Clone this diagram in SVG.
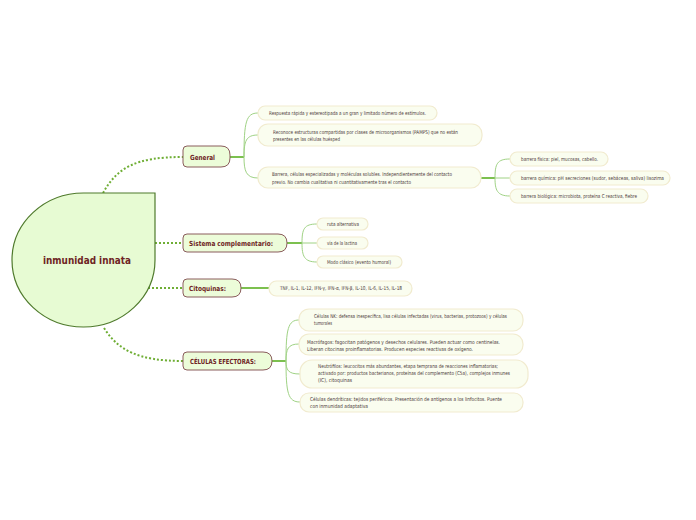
<svg xmlns="http://www.w3.org/2000/svg" width="696" height="520" viewBox="0 0 696 520">
<style>
.main{fill:#ecfcd9;stroke:#8a5c5c;stroke-width:1}
.mt{font-family:"Liberation Sans Narrow","DejaVu Sans Condensed","Liberation Sans",sans-serif;font-weight:bold;fill:#6e2424;font-size:7px}
.leaf{fill:#fafdef;stroke:#f1ebcf;stroke-width:1.2}
.lt{font-family:"Liberation Sans Narrow","DejaVu Sans Condensed","Liberation Sans",sans-serif;fill:#4a3838;font-size:5.3px}
.dot{fill:none;stroke:#6fae35;stroke-width:2;stroke-dasharray:2 2}
.stem{fill:none;stroke:#7cc04f;stroke-width:2}
.br{fill:none;stroke:#9fd284;stroke-width:1}
</style>
<rect width="696" height="520" fill="#ffffff"/>
<g id="connectors">
<path class="dot" d="M103 193 C117 168,135 157,183 157"/>
<path class="dot" d="M155 243 L183 243"/>
<path class="dot" d="M148 288 L183 288"/>
<path class="dot" d="M104 328 C118 350,138 361,183 361"/>
<path class="stem" d="M230 157 L244 157"/>
<path class="br" d="M244 157 C244 122,246 113,258 113"/>
<path class="br" d="M244 157 C244 141,246 135,258 135"/>
<path class="br" d="M244 157 C244 171,246 178,258 178"/>
<path class="stem" d="M481 178 L495 178"/>
<path class="br" d="M495 178 C495 164,497 159,510 159"/>
<path class="br" d="M495 178 L510 178"/>
<path class="br" d="M495 178 C495 190,497 196,510 196"/>
<path class="stem" d="M287 243 L302 243"/>
<path class="br" d="M302 243 C302 229,304 224,317 224"/>
<path class="br" d="M302 243 L317 243"/>
<path class="br" d="M302 243 C302 256,304 262,317 262"/>
<path class="stem" d="M241 288 L269 288"/>
<path class="stem" d="M272 361 L286 361"/>
<path class="br" d="M286 361 C286 329,288 320,299 320"/>
<path class="br" d="M286 361 C286 349,288 344,299 344"/>
<path class="br" d="M286 361 C286 370,288 374,300 374"/>
<path class="br" d="M286 361 C286 393,288 402,300 402"/>
</g>
<g id="central">
<path d="M83.5 193 L155 193 L155 260 A71.5 67 0 0 1 83.5 327 A71.5 67 0 0 1 12 260 A71.5 67 0 0 1 83.5 193 Z" fill="#e7fbd3" stroke="#4f7a2c" stroke-width="1.2"/>
<text x="87" y="263.5" text-anchor="middle" class="mt" style="font-size:10px" textLength="88" lengthAdjust="spacingAndGlyphs">inmunidad innata</text>
</g>
<g id="general">
<path class="main" d="M187 146 H221 Q230 146 230 155 V158 Q230 167 221 167 H187 Q183 167 183 163 V150 Q183 146 187 146 Z"/>
<text x="190" y="159.5" class="mt" textLength="25" lengthAdjust="spacingAndGlyphs">General</text>
</g>
<g id="g1">
<rect class="leaf" x="258" y="106" width="179" height="14" rx="7"/>
<text x="269" y="115" class="lt" textLength="157" lengthAdjust="spacingAndGlyphs">Respuesta rápida y estereotipada a un gran y limitado número de estímulos.</text>
</g>
<g id="g2">
<rect class="leaf" x="258" y="124" width="224" height="22" rx="10"/>
<text x="273" y="133.5" class="lt" textLength="185" lengthAdjust="spacingAndGlyphs">Reconoce estructuras compartidas por clases de microorganismos (PAMPS) que no están</text>
<text x="273" y="140.5" class="lt" textLength="67" lengthAdjust="spacingAndGlyphs">presentes en las células huésped</text>
</g>
<g id="g3">
<rect class="leaf" x="258" y="167" width="223" height="21" rx="10"/>
<text x="272" y="176" class="lt" textLength="180" lengthAdjust="spacingAndGlyphs">Barrera, células especializadas y moléculas solubles. Independientemente del contacto</text>
<text x="272" y="183.5" class="lt" textLength="139" lengthAdjust="spacingAndGlyphs">previo. No cambia cualitativa ni cuantitativamente tras el contacto</text>
</g>
<g id="b1">
<rect class="leaf" x="510" y="152" width="98" height="14" rx="7"/>
<text x="521" y="161" class="lt" textLength="77" lengthAdjust="spacingAndGlyphs">barrera física: piel, mucosas, cabello.</text>
</g>
<g id="b2">
<rect class="leaf" x="510" y="171" width="160" height="14" rx="7"/>
<text x="521" y="180" class="lt" textLength="143" lengthAdjust="spacingAndGlyphs">barrera química: pH secreciones (sudor, sebáceas, saliva) lisozima</text>
</g>
<g id="b3">
<rect class="leaf" x="510" y="189" width="138" height="14" rx="7"/>
<text x="521" y="198" class="lt" textLength="116" lengthAdjust="spacingAndGlyphs">barrera biológica: microbiota, proteína C reactiva, fiebre</text>
</g>
<g id="sistema">
<path class="main" d="M187 234 H278 Q287 234 287 243 Q287 252 278 252 H187 Q183 252 183 248 V238 Q183 234 187 234 Z"/>
<text x="189" y="245.5" class="mt" textLength="84" lengthAdjust="spacingAndGlyphs">Sistema complementario:</text>
</g>
<g id="s1">
<rect class="leaf" x="317" y="218" width="51" height="12" rx="6"/>
<text x="327" y="226" class="lt" textLength="32" lengthAdjust="spacingAndGlyphs">ruta alternativa</text>
</g>
<g id="s2">
<rect class="leaf" x="317" y="237" width="51" height="12" rx="6"/>
<text x="327" y="245" class="lt" textLength="30" lengthAdjust="spacingAndGlyphs">vía de la lactina</text>
</g>
<g id="s3">
<rect class="leaf" x="317" y="256" width="85" height="12" rx="6"/>
<text x="327" y="264" class="lt" textLength="64" lengthAdjust="spacingAndGlyphs">Modo clásico (evento humoral)</text>
</g>
<g id="citoquinas">
<path class="main" d="M187 279 H232 Q241 279 241 288 Q241 297 232 297 H187 Q183 297 183 293 V283 Q183 279 187 279 Z"/>
<text x="189" y="290.5" class="mt" textLength="37" lengthAdjust="spacingAndGlyphs">Citoquinas:</text>
</g>
<g id="c1">
<rect class="leaf" x="269" y="281" width="143" height="15" rx="7.5"/>
<text x="280" y="290" class="lt" textLength="122" lengthAdjust="spacingAndGlyphs">TNF, IL-1, IL-12, IFN-γ, IFN-α, IFN-β, IL-10, IL-6, IL-15, IL-18</text>
</g>
<g id="celulas">
<path class="main" d="M187 352 H263 Q272 352 272 361 Q272 370 263 370 H187 Q183 370 183 366 V356 Q183 352 187 352 Z"/>
<text x="190" y="363.5" class="mt" textLength="66" lengthAdjust="spacingAndGlyphs">CÉLULAS EFECTORAS:</text>
</g>
<g id="e1">
<rect class="leaf" x="299" y="309" width="224" height="22" rx="10"/>
<text x="314" y="317.5" class="lt" textLength="193" lengthAdjust="spacingAndGlyphs">Células NK: defensa inespecífica, lisa células infectadas (virus, bacterias, protozoos) y células</text>
<text x="314" y="324.5" class="lt" textLength="18" lengthAdjust="spacingAndGlyphs">tumorales</text>
</g>
<g id="e2">
<rect class="leaf" x="299" y="334" width="224" height="21" rx="10"/>
<text x="307" y="343.5" class="lt" textLength="193" lengthAdjust="spacingAndGlyphs">Macrófagos: fagocitan patógenos y desechos celulares. Pueden actuar como centinelas.</text>
<text x="307" y="350.5" class="lt" textLength="166" lengthAdjust="spacingAndGlyphs">Liberan citocinas proinflamatorias. Producen especies reactivas de oxígeno.</text>
</g>
<g id="e3">
<rect class="leaf" x="300" y="360" width="228" height="28" rx="12"/>
<text x="318" y="367.5" class="lt" textLength="180" lengthAdjust="spacingAndGlyphs">Neutrófilos: leucocitos más abundantes, etapa temprana de reacciones inflamatorias;</text>
<text x="318" y="374.5" class="lt" textLength="192" lengthAdjust="spacingAndGlyphs">activado por: productos bacterianos, proteínas del complemento (C5a), complejos inmunes</text>
<text x="318" y="381.5" class="lt" textLength="34" lengthAdjust="spacingAndGlyphs">(IC), citoquinas</text>
</g>
<g id="e4">
<rect class="leaf" x="300" y="393" width="223" height="19" rx="9"/>
<text x="310" y="400.5" class="lt" textLength="192" lengthAdjust="spacingAndGlyphs">Células dendríticas: tejidos periféricos. Presentación de antígenos a los linfocitos. Puente</text>
<text x="310" y="407.5" class="lt" textLength="58" lengthAdjust="spacingAndGlyphs">con inmunidad adaptativa</text>
</g>
</svg>
